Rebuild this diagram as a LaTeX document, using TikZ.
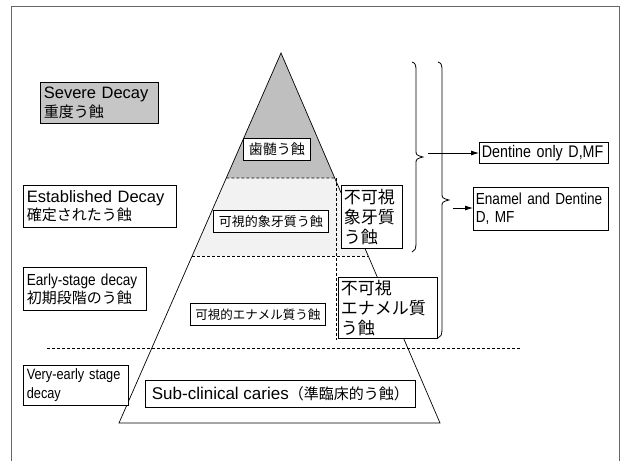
\documentclass[tikz,border=0pt]{standalone}
\usepackage{fontspec}
\setmainfont{Liberation Sans}
\newfontfamily\narrowfont[FakeStretch=0.85]{Liberation Sans}
\newfontfamily\jpfont{Noto Sans CJK JP}
\newcommand\J[2]{{\fontsize{#1}{#1}\jpfont #2}}
\usetikzlibrary{calc,arrows.meta}
\tikzset{
  lab/.style={draw=black, line width=0.7pt, fill=white, inner xsep=3.5pt, inner ysep=0pt, anchor=north west, align=left},
  cbox/.style={draw=black, line width=0.7pt, fill=white, inner sep=0pt, anchor=north west, align=center},
  dsh/.style={line width=0.6pt, dash pattern=on 3pt off 2pt},
  edge/.style={line width=0.7pt},
  brace/.style={line width=0.8pt},
  arr/.style={line width=0.8pt, -{Latex[length=8pt,width=5pt]}},
  regfont/.style={font=\fontsize{16.5}{18.5}\selectfont},
  nfont/.style={font=\narrowfont\fontsize{16}{18}\selectfont},
}
\begin{document}
\begin{tikzpicture}[x=1pt,y=-1pt]
\useasboundingbox (0,0) rectangle (628,461);
% outer frame
\draw[line width=0.8pt, gray!80!black] (11,461) -- (11,6) -- (619,6) -- (619,461);
% pyramid key points
\coordinate (A) at (281,53);
\coordinate (BL) at (119,423);
\coordinate (BR) at (440,423);
\coordinate (L1) at ($(A)!0.3378!(BL)$);
\coordinate (R1) at ($(A)!0.3378!(BR)$);
\coordinate (L2) at ($(A)!0.5486!(BL)$);
\coordinate (R2) at ($(A)!0.5486!(BR)$);
\coordinate (V1) at (336,178);
\coordinate (V2) at (336,340);
\coordinate (H1) at (47,348);
\coordinate (H2) at (520,348);
% regions
\fill[gray!50] (A) -- (L1) -- (R1) -- cycle;
\fill[gray!10] (L1) -- (R1) -- (R2) -- (L2) -- cycle;
% pyramid outline
\draw[edge] (A) -- (BL) -- (BR) -- cycle;
% dashed lines
\draw[dsh] (L1) -- (V1);
\draw[dsh] (L2) -- (R2);
\draw[dsh] (V1) -- (V2);
\draw[dsh] (H1) -- (H2);
% left labels
\node[lab, regfont, fill=gray!45, text width=111pt, minimum height=41pt] (severe) at (40,82)
  {Severe Decay\\\J{15}{重度う蝕}};
\node[lab, regfont, text width=146pt, minimum height=42pt] (estab) at (23,185)
  {Established Decay\\\J{15}{確定されたう蝕}};
\node[lab, nfont, text width=116pt, minimum height=43pt] (early) at (23,267)
  {Early-stage decay\\\J{15}{初期段階のう蝕}};
\node[lab, font=\narrowfont\fontsize{15}{19}\selectfont, text width=98pt, minimum height=40pt] (vearly) at (23,365)
  {Very-early stage\\decay};
% inner labels
\node[cbox, minimum width=67pt, minimum height=22pt] (pulp) at (243,138) {\J{14}{歯髄う蝕}};
\node[cbox, minimum width=115pt, minimum height=22pt] (visdent) at (213,210) {\J{13}{可視的象牙質う蝕}};
\node[lab, inner xsep=2.5pt, font=\jpfont\fontsize{17}{20}\selectfont, text width=56pt, minimum height=63pt] (invdent) at (341,185)
  {不可視\\象牙質\\う蝕};
\node[cbox, minimum width=135pt, minimum height=22pt] (visenam) at (190,303) {\J{12.5}{可視的エナメル質う蝕}};
\node[lab, inner xsep=2.5pt, font=\jpfont\fontsize{17}{20}\selectfont, text width=94pt, minimum height=61pt] (invenam) at (338,277)
  {不可視\\エナメル質\\う蝕};
\node[cbox, minimum width=270pt, minimum height=27pt, font=\fontsize{17}{19}\selectfont] (subclin) at (145,380)
  {Sub-clinical caries\J{15}{（準臨床的う蝕）}};
% right labels
\node[lab, inner xsep=2.5pt, font=\narrowfont\fontsize{16.8}{18}\selectfont, text width=124pt, minimum height=21pt] (dentonly) at (479,142) {Dentine only D,MF};
\node[lab, inner xsep=2.5pt, nfont, text width=130pt, minimum height=43pt] (enden) at (473,187) {Enamel and Dentine\\D, MF};
% braces
\draw[brace] (412,62) .. controls (416,63) and (416,66) .. (416,72) -- (416,150)
  .. controls (416,155) .. (423,157) .. controls (416,159) .. (416,164) -- (416,242)
  .. controls (416,249) and (415,251) .. (412,252);
\draw[brace] (438,62) .. controls (442,63) and (442,66) .. (442,72) -- (442,193)
  .. controls (442,198) .. (449,200) .. controls (442,202) .. (442,207) -- (442,328)
  .. controls (442,335) and (441,337) .. (438,338);
% arrows
\coordinate (a1) at (428,153);
\coordinate (a2) at (453,208);
\draw[arr] (a1) -- (a1 -| dentonly.west);
\draw[arr] (a2) -- (a2 -| enden.west);
\end{tikzpicture}
\end{document}
